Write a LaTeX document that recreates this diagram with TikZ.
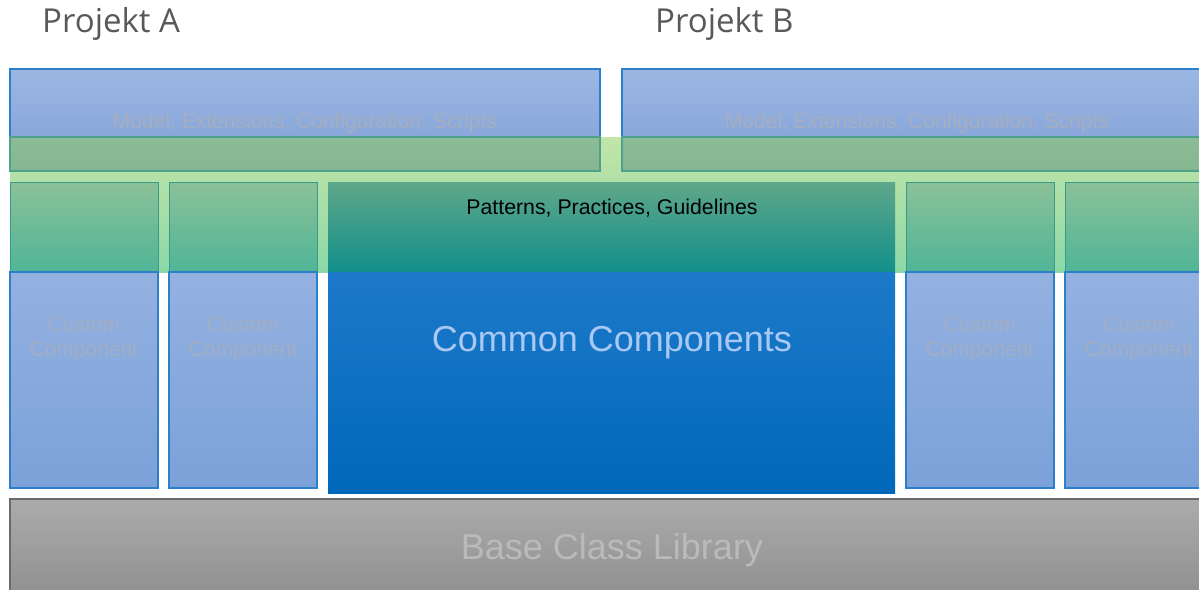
\documentclass[tikz,border=0pt]{standalone}
\usepackage{fontspec}
\setmainfont{Liberation Sans}
\newfontfamily\projfont{Open Sans}

\definecolor{blueTop}{HTML}{9BB7E3}
\definecolor{blueBot}{HTML}{89A7DA}
\definecolor{edgeBlue}{HTML}{2B7FCB}
\definecolor{barTop}{HTML}{8CBC95}
\definecolor{barBot}{HTML}{85B792}
\definecolor{barEdge}{HTML}{4FA08C}
\definecolor{bandTop}{HTML}{C3E5A7}
\definecolor{bandBot}{HTML}{8DD8A8}
\definecolor{colTop}{HTML}{8BC198}
\definecolor{colBot}{HTML}{4FB597}
\definecolor{colEdge}{HTML}{3A9B8C}
\definecolor{ppgTop}{HTML}{5FA78A}
\definecolor{ppgBot}{HTML}{12908A}
\definecolor{ccTop}{HTML}{1D79C9}
\definecolor{ccBot}{HTML}{0068BA}
\definecolor{custTop}{HTML}{94B1E1}
\definecolor{custBot}{HTML}{7BA1D9}
\definecolor{baseTop}{HTML}{ABABAB}
\definecolor{baseBot}{HTML}{8F8F8F}
\definecolor{baseEdge}{HTML}{6A6A6A}
\definecolor{modelText}{HTML}{A6AEBF}
\definecolor{custText}{HTML}{A3ADC3}
\definecolor{ccText}{HTML}{A9C8F3}
\definecolor{baseText}{HTML}{BABABA}
\definecolor{projText}{HTML}{595959}

\begin{document}
\begin{tikzpicture}[x=1pt,y=-1pt,
  projbox/.style={top color=blueTop,bottom color=blueBot,draw=edgeBlue,line width=1.3pt},
  greenbar/.style={top color=barTop,bottom color=barBot,draw=barEdge,line width=1.2pt},
  coltop/.style={top color=colTop,bottom color=colBot,draw=colEdge,line width=1pt},
  colbot/.style={top color=custTop,bottom color=custBot,draw=edgeBlue,line width=1.3pt},
  projlabel/.style={anchor=base west,inner sep=0pt,text=projText,font=\projfont\fontsize{33}{38}\selectfont},
  modellabel/.style={text=modelText,font=\fontsize{21}{26}\selectfont},
  custlabel/.style={align=center,text=custText,font=\fontsize{21}{24.5}\selectfont}]
\useasboundingbox (0,0) rectangle (1199,589);
\clip (0,0) rectangle (1199,589);

% light green band behind the columns
\shade[top color=bandTop,bottom color=bandBot] (10,137) rectangle (1213,272);

% project bars
\shade[projbox] (10,69) rectangle (600,137);
\shade[projbox] (622,69) rectangle (1213,137);
\shade[greenbar] (10,137) rectangle (600,171);
\shade[greenbar] (622,137) rectangle (1213,171);

% custom component columns
\foreach \xa/\xb in {10/158,169/317,906/1054,1065/1213} {
  \shade[coltop] (\xa,182) rectangle (\xb,272);
  \shade[colbot] (\xa,272) rectangle (\xb,488);
  \node[custlabel] (cust\xa) at ({(\xa+\xb)/2},339) {Custom\\Component};
}

% common components
\shade[top color=ppgTop,bottom color=ppgBot] (328,182) rectangle (895,272);
\shade[top color=ccTop,bottom color=ccBot] (328,272) rectangle (895,493);

% base class library
\shade[top color=baseTop,bottom color=baseBot,draw=baseEdge,line width=1.3pt] (10,499) rectangle (1213,600);

\node[projlabel] (projA) at (42,32) {Projekt A};
\node[projlabel] (projB) at (655,32) {Projekt B};
\node[modellabel] (modelA) at (305,123) {Model, Extensions, Configuration, Scripts};
\node[modellabel] (modelB) at (917,123) {Model, Extensions, Configuration, Scripts};
\node[font=\fontsize{21.3}{25}\selectfont] (ppg) at (612,208) {Patterns, Practices, Guidelines};
\node[text=ccText,font=\fontsize{36}{42}\selectfont] (common) at (612,343) {Common Components};
\node[text=baseText,font=\fontsize{36}{42}\selectfont] (bcl) at (612,550) {Base Class Library};
\end{tikzpicture}
\end{document}
